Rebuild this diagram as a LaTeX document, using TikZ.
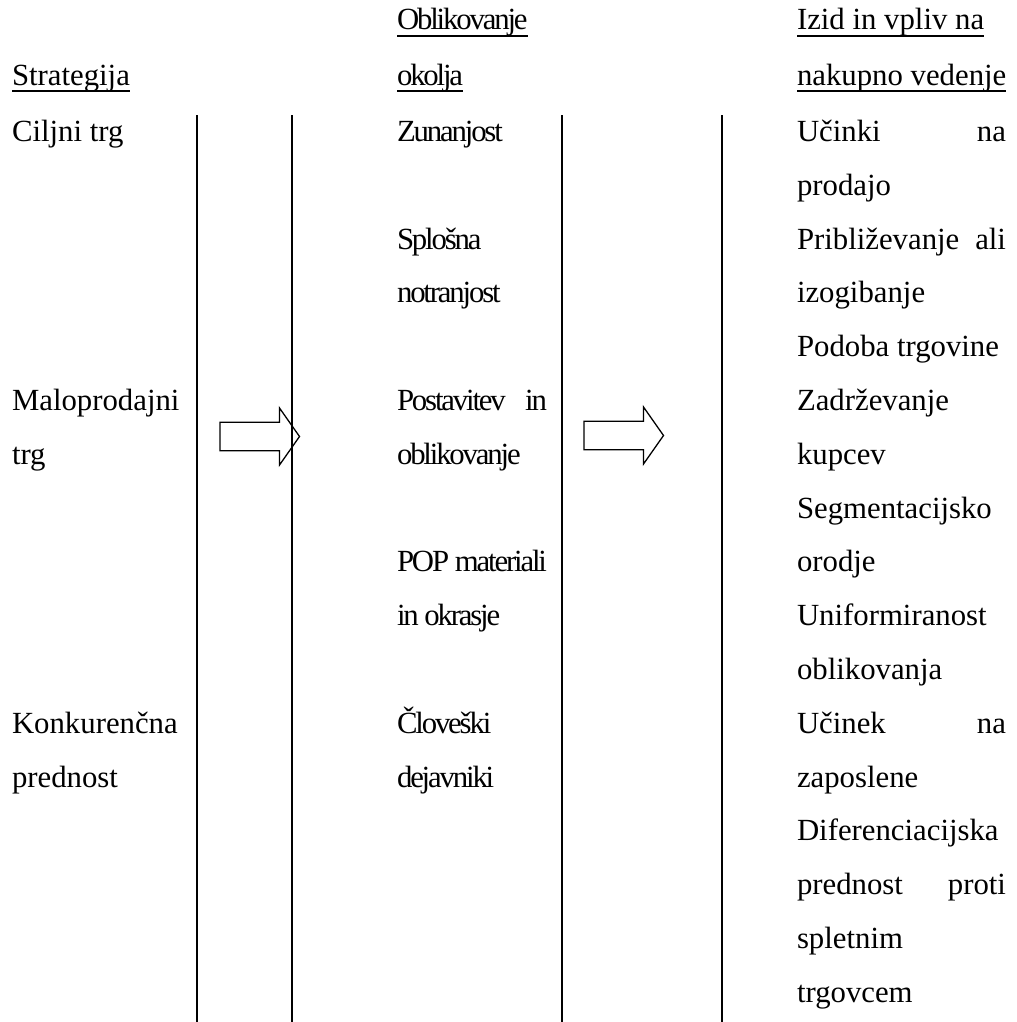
\documentclass[tikz,border=0pt]{standalone}
\usepackage{fontspec}
\setmainfont{Liberation Serif}
\newfontfamily\midfont{Liberation Serif}[LetterSpace=-7]
\newlength\colR \setlength\colR{81.5pt}
\newlength\colM \setlength\colM{58.5pt}
\newcommand\hdul[1]{\setbox0\hbox{#1}\rlap{\rule[-2.6pt]{\wd0}{0.5pt}}\box0}
\tikzset{
  blockarr/.pic={\draw[line width=0.5pt,fill=white] (0,-14.3) -- (59.5,-14.3) -- (59.5,-28.5) -- (79.5,0) -- (59.5,28.5) -- (59.5,14.3) -- (0,14.3) -- cycle;}
}
\begin{document}
\begin{tikzpicture}[x=0.39pt,y=-0.39pt,
  txt/.style={anchor=base west,inner sep=0pt,outer sep=0pt,font=\fontsize{12}{14}\selectfont},
  mid/.style={anchor=base west,inner sep=0pt,outer sep=0pt,font=\fontsize{12}{14}\selectfont\midfont},
  vline/.style={line width=0.8pt}]
\useasboundingbox (0,0) rectangle (1016,1022);
% block arrows
\pic (arrA) at (220,436.5) {blockarr};
\pic (arrB) at (584,435.5) {blockarr};
% vertical lines
\coordinate (t1) at (197,115); \coordinate (e1) at (197,1022);
\coordinate (t2) at (292,115); \coordinate (e2) at (292,1022);
\coordinate (t3) at (562,115); \coordinate (e3) at (562,1022);
\coordinate (t4) at (722,115); \coordinate (e4) at (722,1022);
\draw[vline] (t1) -- (e1);
\draw[vline] (t2) -- (e2);
\draw[vline] (t3) -- (e3);
\draw[vline] (t4) -- (e4);
% left column
\node[txt] (strat) at (12,85) {\hdul{Strategija}};
\node[txt] (l2) at (12,141.5) {Ciljni trg};
\node[txt] (l7) at (12,410.5) {Maloprodajni};
\node[txt] (l8) at (12,464.3) {trg};
\node[txt] (l13) at (12,733.3) {Konkurenčna};
\node[txt] (l14) at (12,787.1) {prednost};
% middle column
\node[mid] (m0) at (397,30) {\hdul{Oblikovanje}};
\node[mid] (m1) at (397,85) {\hdul{okolja}};
\node[mid] (m2) at (397,141.5) {Zunanjost};
\node[mid] (m4) at (397,249.1) {Splošna};
\node[mid] (m5) at (397,302.9) {notranjost};
\node[mid] (m7) at (397,410.5) {\makebox[\colM][s]{Postavitev in}};
\node[mid] (m8) at (397,464.3) {oblikovanje};
\node[mid] (m10) at (397,571.9) {\makebox[\colM][s]{POP materiali}};
\node[mid] (m11) at (397,625.7) {in okrasje};
\node[mid] (m13) at (397,733.3) {Človeški};
\node[mid] (m14) at (397,787.1) {dejavniki};
% right column
\node[txt] (r0) at (797,30) {\hdul{Izid in vpliv na}};
\node[txt] (r1) at (797,85) {\hdul{nakupno vedenje}};
\node[txt] (r2) at (797,141.5) {\makebox[\colR][s]{Učinki na}};
\node[txt] (r3) at (797,195.3) {prodajo};
\node[txt] (r4) at (797,249.1) {\makebox[\colR][s]{Približevanje ali}};
\node[txt] (r5) at (797,302.9) {izogibanje};
\node[txt] (r6) at (797,356.7) {Podoba trgovine};
\node[txt] (r7) at (797,410.5) {Zadrževanje};
\node[txt] (r8) at (797,464.3) {kupcev};
\node[txt] (r9) at (797,518.1) {Segmentacijsko};
\node[txt] (r10) at (797,571.9) {orodje};
\node[txt] (r11) at (797,625.7) {Uniformiranost};
\node[txt] (r12) at (797,679.5) {oblikovanja};
\node[txt] (r13) at (797,733.3) {\makebox[\colR][s]{Učinek na}};
\node[txt] (r14) at (797,787.1) {zaposlene};
\node[txt] (r15) at (797,840.9) {Diferenciacijska};
\node[txt] (r16) at (797,894.7) {\makebox[\colR][s]{prednost proti}};
\node[txt] (r17) at (797,948.5) {spletnim};
\node[txt] (r18) at (797,1002.3) {trgovcem};
\end{tikzpicture}
\end{document}
